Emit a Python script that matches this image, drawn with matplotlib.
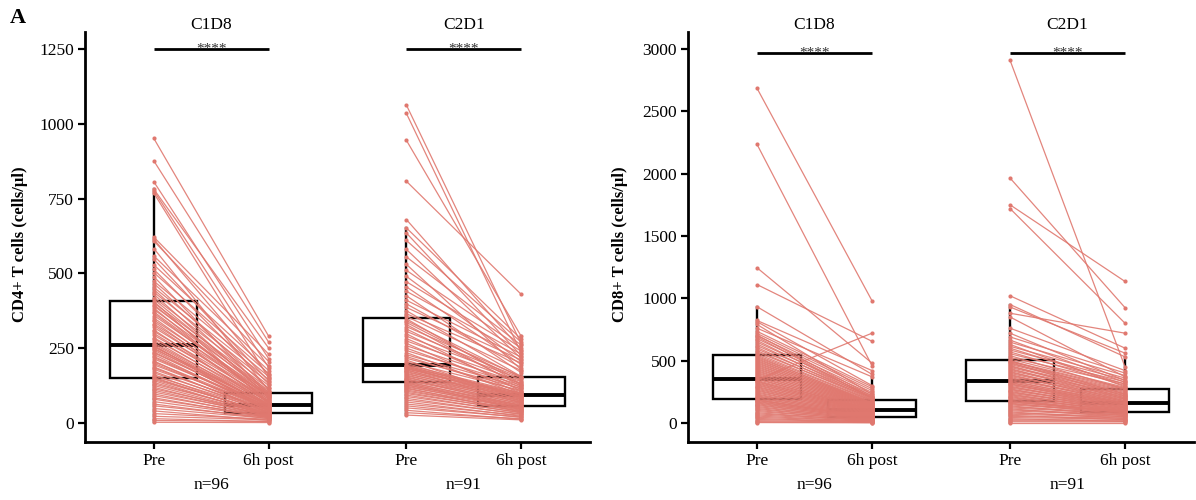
import matplotlib
matplotlib.use("Agg")
import matplotlib.pyplot as plt
import matplotlib.transforms as mtransforms

plt.rcParams['font.family'] = ['Liberation Serif', 'DejaVu Serif']

# ---------------- data ----------------
groups = ["C1D8", "C2D1"]
timepoints = ["Pre", "6h post"]
n_labels = ["n=96", "n=91"]

cd4_c1d8_pre = [2, 8, 14, 22, 31, 40, 48, 57, 63, 71, 79, 84, 91, 97, 103, 109, 114, 119, 125, 130, 135, 141, 145, 149,
                152, 157, 161, 167, 172, 179, 184, 187, 194, 199, 204, 207, 214, 219, 222, 229, 234, 237, 243, 247, 250, 254, 256, 259,
                263, 267, 275, 281, 285, 293, 299, 306, 311, 319, 326, 331, 339, 344, 351, 359, 366, 371, 379, 384, 391, 395, 401, 406,
                413, 419, 430, 437, 446, 453, 466, 474, 489, 502, 513, 528, 547, 558, 583, 608, 614, 621, 768, 776, 781, 806, 876, 951]
cd4_c1d8_post = [1, 5, 4, 10, 12, 8, 15, 18, 14, 20, 22, 17, 25, 19, 27, 23, 30, 21, 26, 33, 28, 24, 35, 31,
                 29, 38, 26, 42, 34, 45, 40, 36, 50, 44, 48, 32, 55, 47, 52, 41, 58, 53, 46, 60, 49, 62, 56, 39,
                 57, 65, 54, 70, 61, 75, 68, 80, 59, 85, 72, 90, 66, 92, 78, 96, 83, 88, 102, 71, 108, 93, 115, 64,
                 98, 125, 87, 135, 102, 145, 115, 155, 92, 165, 130, 175, 140, 190, 108, 205, 160, 230, 150, 185, 250, 215, 270, 290]

cd4_c2d1_pre = [26, 34, 42, 50, 57, 63, 70, 76, 82, 88, 93, 98, 102, 106, 110, 114, 117, 120, 123, 126, 128, 131, 134,
                136, 139, 142, 145, 148, 151, 154, 157, 160, 163, 166, 169, 172, 175, 178, 180, 182, 184, 186, 188, 190, 191,
                194, 199, 204, 210, 216, 222, 228, 235, 242, 250, 258, 266, 274, 282, 290, 298, 306, 314, 322, 329, 336, 342, 348,
                356, 365, 375, 386, 398, 410, 425, 440, 455, 472, 490, 510, 530, 555, 580, 610, 635, 652, 680, 808, 945, 1035, 1063]
cd4_c2d1_post = [10, 14, 12, 20, 18, 25, 22, 30, 28, 35, 33, 40, 38, 45, 42, 48, 36, 52, 47, 55, 50, 58, 44,
                 60, 53, 65, 70, 57, 75, 62, 80, 68, 85, 72, 88, 78, 92, 66, 96, 83, 88, 99, 74, 94, 90,
                 100, 86, 108, 80, 115, 104, 120, 94, 126, 112, 132, 98, 138, 118, 145, 106, 150, 128, 155, 122, 140, 152, 130,
                 175, 200, 155, 210, 185, 220, 168, 230, 195, 240, 205, 250, 178, 260, 215, 270, 225, 280, 245, 430, 290, 235, 265]

cd8_c1d8_pre = [3, 10, 18, 27, 36, 45, 55, 64, 73, 82, 91, 100, 108, 116, 124, 132, 140, 147, 154, 161, 167, 173, 179, 184,
                190, 197, 204, 211, 218, 225, 232, 240, 248, 256, 263, 270, 278, 285, 292, 300, 307, 314, 321, 328, 334, 340, 345, 350,
                357, 365, 373, 381, 389, 397, 405, 413, 421, 429, 437, 445, 453, 461, 469, 477, 485, 493, 501, 509, 517, 525, 534, 543,
                555, 568, 580, 593, 606, 620, 634, 648, 662, 676, 690, 700, 705, 718, 735, 760, 790, 812, 822, 932, 1110, 1245, 2235, 2685]
cd8_c1d8_post = [1, 3, 6, 10, 8, 14, 12, 18, 22, 16, 26, 20, 30, 25, 34, 28, 38, 33, 42, 36, 47, 40, 52, 45,
                 40, 52, 46, 58, 50, 63, 55, 68, 60, 73, 65, 78, 70, 83, 75, 88, 80, 93, 85, 98, 90, 102, 720, 106,
                 92, 110, 100, 116, 105, 122, 112, 128, 118, 134, 124, 140, 130, 146, 136, 152, 142, 158, 148, 164, 154, 170, 160, 176,
                 180, 200, 185, 210, 190, 220, 198, 232, 205, 245, 200, 260, 215, 275, 290, 370, 230, 300, 420, 390, 655, 480, 460, 980]

cd8_c2d1_pre = [2, 9, 17, 25, 34, 43, 52, 61, 70, 79, 88, 97, 105, 113, 121, 129, 137, 145, 152, 159, 165, 171, 176,
                183, 190, 197, 204, 211, 218, 225, 232, 239, 246, 253, 260, 267, 274, 281, 288, 295, 302, 309, 315, 321, 326,
                333, 341, 349, 357, 365, 373, 381, 389, 397, 405, 413, 421, 429, 437, 445, 453, 461, 469, 477, 485, 490, 495, 501,
                512, 525, 540, 555, 570, 585, 600, 615, 630, 648, 665, 690, 720, 760, 850, 880, 930, 950, 1020, 1720, 1750, 1965, 2910]
cd8_c2d1_post = [2, 8, 15, 22, 12, 30, 38, 26, 45, 52, 35, 60, 66, 48, 72, 78, 58, 84, 90, 70, 95, 82, 88,
                 85, 80, 92, 98, 88, 104, 110, 94, 116, 122, 100, 128, 134, 108, 140, 146, 118, 150, 156, 125, 160, 138,
                 165, 150, 172, 180, 158, 188, 196, 168, 204, 212, 176, 220, 228, 190, 236, 244, 200, 252, 260, 215, 268, 278, 230,
                 285, 315, 270, 330, 300, 345, 310, 360, 290, 380, 325, 400, 340, 420, 370, 720, 560, 530, 600, 800, 1135, 925, 450]

panels = [
    dict(ylabel="CD4+ T cells (cells/\u00b5l)", ticks=[0, 250, 500, 750, 1000, 1250],
         ylim=(-64, 1307), sig_y=1250,
         data=[(cd4_c1d8_pre, cd4_c1d8_post), (cd4_c2d1_pre, cd4_c2d1_post)]),
    dict(ylabel="CD8+ T cells (cells/\u00b5l)", ticks=[0, 500, 1000, 1500, 2000, 2500, 3000],
         ylim=(-153, 3136), sig_y=2970,
         data=[(cd8_c1d8_pre, cd8_c1d8_post), (cd8_c2d1_pre, cd8_c2d1_post)]),
]

# ---------------- styling ----------------
pt_color = "#E0786F"
group_pos = [(1.0, 2.0), (3.2, 4.2)]

fig = plt.figure(figsize=(11.96, 5.0), dpi=100)
axes_rects = [[85 / 1196, 58 / 500, 505 / 1196, 410 / 500],
              [688 / 1196, 58 / 500, 506 / 1196, 410 / 500]]
label_x = [-0.113, -0.119]

for pi, (panel, rect) in enumerate(zip(panels, axes_rects)):
    ax = fig.add_axes(rect)
    positions = []
    box_data = []
    for (pre, post), (xp, xq) in zip(panel["data"], group_pos):
        positions += [xp, xq]
        box_data += [pre, post]
    ax.boxplot(box_data, positions=positions, widths=0.76, whis=1.5, showfliers=False,
               patch_artist=True, showcaps=False,
               boxprops=dict(facecolor="white", edgecolor="black", linewidth=1.7),
               whiskerprops=dict(color="black", linewidth=1.7),
               medianprops=dict(color="black", linewidth=2.8),
               zorder=1)
    for gi, ((pre, post), (xp, xq)) in enumerate(zip(panel["data"], group_pos)):
        for a, b in zip(pre, post):
            ax.plot([xp, xq], [a, b], color=pt_color, lw=0.9, alpha=0.9, zorder=2,
                    solid_capstyle="round")
        ax.scatter([xp] * len(pre), pre, s=9, color=pt_color, zorder=3, linewidths=0)
        ax.scatter([xq] * len(post), post, s=9, color=pt_color, zorder=3, linewidths=0)
        # significance bar
        ax.plot([xp, xq], [panel["sig_y"]] * 2, color="black", lw=2.0, zorder=4,
                solid_capstyle="butt", clip_on=False)
        ax.text((xp + xq) / 2, panel["sig_y"], "****", ha="center", va="center",
                fontsize=11, color="#333333", zorder=5)
        trans = mtransforms.blended_transform_factory(ax.transData, ax.transAxes)
        ax.text((xp + xq) / 2, 1.017, groups[gi], transform=trans, ha="center",
                va="center", fontsize=12.5)
        ax.text((xp + xq) / 2, -0.105, n_labels[gi], transform=trans, ha="center",
                va="center", fontsize=12.5)

    ax.set_xlim(0.4, 4.8)
    ax.set_ylim(*panel["ylim"])
    ax.set_xticks(positions)
    ax.set_xticklabels(timepoints * 2, fontsize=12.5)
    ax.set_yticks(panel["ticks"])
    ax.set_yticklabels([str(t) for t in panel["ticks"]], fontsize=12.5)
    for s in ["top", "right"]:
        ax.spines[s].set_visible(False)
    for s in ["left", "bottom"]:
        ax.spines[s].set_linewidth(2.0)
    ax.tick_params(axis="both", direction="out", length=5, width=1.6, color="black",
                   labelcolor="black", pad=3)
    ax.set_ylabel(panel["ylabel"], fontsize=12, fontweight="bold")
    ax.yaxis.set_label_coords(label_x[pi], 0.483)

fig.text(18 / 1196, 1 - 18 / 500, "A", fontsize=16, fontweight="bold", ha="center", va="center")

fig.savefig("out.png", dpi=100)
